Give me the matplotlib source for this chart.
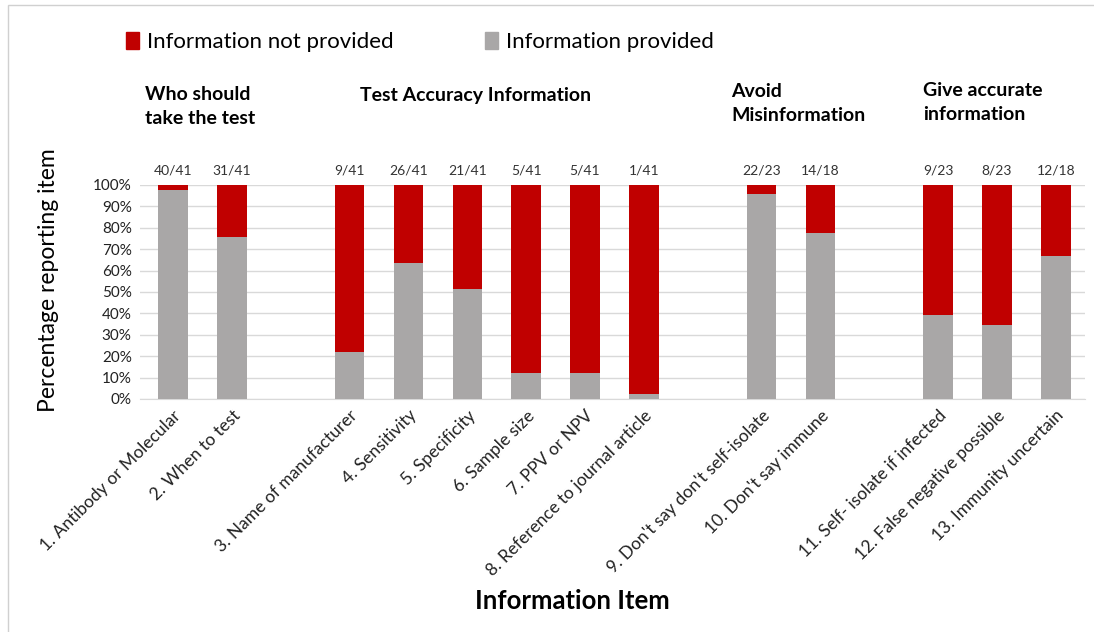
import matplotlib.pyplot as plt
from matplotlib.patches import Patch, Rectangle
import numpy as np

plt.rcParams['font.family'] = ['Lato', 'DejaVu Sans']

items = ["1. Antibody or Molecular", "2. When to test", "3. Name of manufacturer",
         "4. Sensitivity", "5. Specificity", "6. Sample size", "7. PPV or NPV",
         "8. Reference to journal article", "9. Don't say don't self-isolate",
         "10. Don't say immune", "11. Self- isolate if infected",
         "12. False negative possible", "13. Immunity uncertain"]
provided = [40, 31, 9, 26, 21, 5, 5, 1, 22, 14, 9, 8, 12]
total = [41, 41, 41, 41, 41, 41, 41, 41, 23, 18, 23, 23, 18]
# slot of each bar (empty slots separate the groups)
slots = [0, 1, 3, 4, 5, 6, 7, 8, 10, 11, 13, 14, 15]
groups = ["Who should\ntake the test", "Test Accuracy Information",
          "Avoid\nMisinformation", "Give accurate\ninformation"]

red = '#c00000'
grey = '#a9a7a7'

pct_yes = np.array(provided) / np.array(total) * 100
pct_no = 100 - pct_yes

fig = plt.figure(figsize=(10.94, 6.32), dpi=100)
ax = fig.add_axes([0.128, 0.3687, 0.864, 0.3386])

ax.bar(slots, pct_yes, width=0.5, color=grey, zorder=3)
ax.bar(slots, pct_no, width=0.5, bottom=pct_yes, color=red, zorder=3)

for x, p, t in zip(slots, provided, total):
    ax.text(x, 104, f"{p}/{t}", ha='center', va='bottom', fontsize=10, color='#333333')

ax.set_xlim(-0.56, 15.5)
ax.set_ylim(0, 100)
ax.set_yticks(np.arange(0, 101, 10))
ax.set_yticklabels([f"{v}%" for v in range(0, 101, 10)], fontsize=11, color='#222222')
ax.set_xticks(slots)
ax.set_xticklabels(items, rotation=45, ha='right', rotation_mode='anchor', fontsize=12.5,
                   color='#222222')
ax.tick_params(length=0, pad=6)
ax.yaxis.grid(True, color='#d9d9d9', linewidth=1, zorder=0)
for s in ['top', 'right', 'left']:
    ax.spines[s].set_visible(False)
ax.spines['bottom'].set_color('#d9d9d9')

# group headings
tr = ax.get_xaxis_transform()
ax.text(-0.47, 1.365, groups[0], transform=tr, fontsize=14, fontweight='bold',
        va='center', ha='left', linespacing=1.5)
ax.text(3.17, 1.42, groups[1], transform=tr, fontsize=14, fontweight='bold',
        va='center', ha='left')
ax.text(9.49, 1.38, groups[2], transform=tr, fontsize=14, fontweight='bold',
        va='center', ha='left', linespacing=1.5)
ax.text(12.75, 1.385, groups[3], transform=tr, fontsize=14, fontweight='bold',
        va='center', ha='left', linespacing=1.5)

handles = [Patch(color=red, label='Information not provided'),
           Patch(color=grey, label='Information provided')]
fig.legend(handles=handles, loc='center left', bbox_to_anchor=(0.097, 0.933), ncol=2,
           frameon=False, fontsize=16, handlelength=0.6, handleheight=0.8,
           handletextpad=0.35, columnspacing=4.1)

fig.text(0.044, 0.557, "Percentage reporting item", rotation=90, ha='center', va='center',
         fontsize=16.5)
fig.text(0.523, 0.049, "Information Item", ha='center', va='center', fontsize=18.5,
         fontweight='bold')

fig.patches.append(Rectangle((0.007, -0.1), 1.2, 1.092, transform=fig.transFigure,
                             fill=False, edgecolor='#d0d0d0', linewidth=1))

fig.savefig('out.png', dpi=100)
